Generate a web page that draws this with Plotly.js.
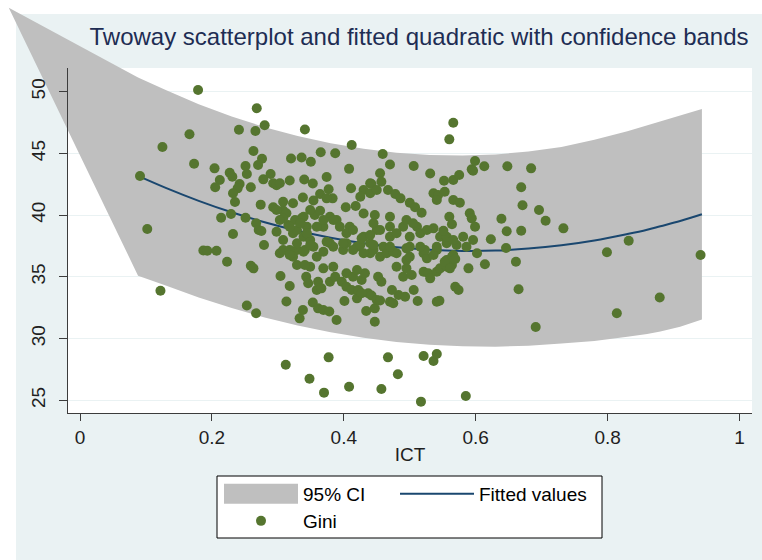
<!DOCTYPE html>
<html>
<head>
<meta charset="utf-8">
<script src="https://cdn.plot.ly/plotly-3.0.1.min.js"></script>
<style>
html, body { margin: 0; padding: 0; background: #ffffff; }
#chart { width: 762px; height: 560px; }
</style>
</head>
<body>
<div id="chart"></div>
<script>
// ---------------- data ----------------
const giniICT = [
  0.091, 0.102, 0.122, 0.125, 0.166, 0.179, 0.173, 0.204, 0.268, 0.280,
  0.241, 0.266, 0.341, 0.412, 0.263, 0.276, 0.270, 0.251, 0.253, 0.227,
  0.231, 0.212, 0.205, 0.242, 0.239, 0.232, 0.235, 0.259, 0.278, 0.289,
  0.293, 0.298, 0.320, 0.336, 0.350, 0.365, 0.387, 0.318, 0.340, 0.353,
  0.374, 0.377, 0.408, 0.411, 0.459, 0.470, 0.506, 0.531, 0.560, 0.566,
  0.455, 0.440, 0.430, 0.274, 0.293, 0.308, 0.323, 0.338, 0.354, 0.364,
  0.383, 0.403, 0.418, 0.430, 0.214, 0.229, 0.251, 0.267, 0.271, 0.232,
  0.279, 0.187, 0.193, 0.207, 0.223, 0.470, 0.490, 0.511, 0.536, 0.546,
  0.500, 0.470, 0.450, 0.430, 0.409, 0.389, 0.369, 0.344, 0.323, 0.308,
  0.303, 0.329, 0.354, 0.379, 0.399, 0.420, 0.440, 0.460, 0.480, 0.500,
  0.521, 0.541, 0.556, 0.275, 0.259, 0.263, 0.253, 0.267, 0.304, 0.318,
  0.313, 0.329, 0.333, 0.338, 0.353, 0.343, 0.346, 0.359, 0.361, 0.298,
  0.313, 0.298, 0.308, 0.318, 0.323, 0.316, 0.329, 0.339, 0.349, 0.341,
  0.359, 0.349, 0.336, 0.356, 0.349, 0.308, 0.312, 0.348, 0.369, 0.378,
  0.389, 0.401, 0.420, 0.434, 0.447, 0.447, 0.437, 0.442, 0.450, 0.455,
  0.470, 0.475, 0.483, 0.493, 0.473, 0.506, 0.512, 0.541, 0.545, 0.569,
  0.574, 0.589, 0.602, 0.361, 0.366, 0.379, 0.387, 0.397, 0.404, 0.412,
  0.422, 0.427, 0.432, 0.452, 0.457, 0.490, 0.495, 0.503, 0.521, 0.528,
  0.531, 0.541, 0.546, 0.556, 0.564, 0.341, 0.369, 0.384, 0.404, 0.414,
  0.420, 0.480, 0.495, 0.500, 0.526, 0.536, 0.556, 0.566, 0.318, 0.339,
  0.369, 0.384, 0.414, 0.430, 0.445, 0.455, 0.465, 0.475, 0.404, 0.425,
  0.440, 0.523, 0.541, 0.571, 0.457, 0.442, 0.425, 0.467, 0.478, 0.486,
  0.500, 0.508, 0.518, 0.536, 0.543, 0.541, 0.552, 0.566, 0.575, 0.594,
  0.599, 0.566, 0.576, 0.591, 0.594, 0.599, 0.560, 0.564, 0.303, 0.308,
  0.374, 0.326, 0.339, 0.364, 0.379, 0.447, 0.445, 0.455, 0.470, 0.480,
  0.495, 0.505, 0.516, 0.526, 0.556, 0.566, 0.581, 0.596, 0.586, 0.303,
  0.318, 0.334, 0.344, 0.359, 0.369, 0.384, 0.394, 0.404, 0.414, 0.427,
  0.440, 0.329, 0.349, 0.374, 0.399, 0.445, 0.470, 0.495, 0.516, 0.596,
  0.613, 0.648, 0.684, 0.669, 0.671, 0.696, 0.706, 0.639, 0.551, 0.647,
  0.669, 0.733, 0.623, 0.646, 0.661, 0.614, 0.564, 0.569, 0.553, 0.561,
  0.799, 0.832, 0.941, 0.665, 0.814, 0.691, 0.879, 0.427, 0.440, 0.450,
  0.553, 0.377, 0.370, 0.408, 0.457, 0.467, 0.482, 0.517, 0.521, 0.536,
  0.541, 0.585
];
const giniValue = [
  43.17, 38.88, 33.88, 45.52, 46.55, 50.14, 44.17, 43.79, 48.66, 47.28,
  46.92, 46.82, 46.94, 45.68, 45.20, 44.57, 44.06, 43.98, 43.33, 43.44,
  43.11, 42.85, 42.26, 42.52, 42.17, 41.77, 41.06, 42.26, 42.90, 43.33,
  42.58, 42.42, 44.59, 44.67, 44.33, 45.09, 45.01, 42.81, 42.89, 42.56,
  43.09, 42.10, 43.75, 42.18, 44.95, 44.10, 43.98, 43.37, 46.14, 47.49,
  43.39, 42.58, 42.04, 40.85, 40.64, 40.38, 40.96, 41.43, 41.19, 41.71,
  41.36, 40.64, 40.74, 40.13, 39.79, 40.09, 39.79, 39.34, 38.80, 38.47,
  37.58, 37.14, 37.12, 37.12, 36.23, 39.87, 39.06, 39.06, 38.93, 38.25,
  38.25, 38.25, 38.80, 38.25, 39.06, 39.61, 39.06, 39.06, 38.53, 37.99,
  36.91, 37.18, 37.44, 37.72, 37.18, 37.44, 36.91, 37.44, 36.91, 37.44,
  36.91, 37.18, 37.72, 38.72, 35.90, 35.69, 32.68, 32.05, 35.07, 34.26,
  33.00, 35.96, 31.64, 32.32, 32.92, 35.01, 34.48, 33.94, 32.45, 40.42,
  40.15, 38.66, 37.18, 37.18, 36.63, 39.20, 38.80, 38.25, 37.99, 37.18,
  36.63, 35.82, 39.74, 40.01, 40.42, 39.74, 27.88, 26.75, 32.32, 32.20,
  31.51, 33.04, 33.26, 32.23, 31.37, 32.45, 33.67, 33.49, 33.13, 33.08,
  32.99, 32.86, 33.53, 33.39, 33.94, 33.94, 33.04, 32.99, 33.07, 34.20,
  33.94, 35.69, 36.91, 34.61, 34.07, 34.61, 35.01, 34.61, 34.20, 33.94,
  33.94, 34.75, 35.29, 35.01, 34.61, 35.01, 35.69, 35.15, 35.42, 35.29,
  34.88, 35.42, 35.69, 35.82, 35.96, 35.96, 35.69, 35.82, 35.29, 35.01,
  35.56, 35.82, 36.37, 36.63, 36.50, 36.77, 36.37, 36.77, 36.77, 37.04,
  37.04, 37.44, 37.18, 36.91, 37.18, 36.63, 36.91, 37.04, 37.72, 37.58,
  37.72, 37.18, 37.44, 37.58, 42.71, 42.52, 41.49, 42.04, 41.71, 41.36,
  41.01, 40.64, 40.20, 41.77, 41.63, 41.23, 42.79, 42.85, 43.25, 43.71,
  44.39, 41.23, 41.01, 40.15, 39.74, 39.06, 39.87, 39.26, 42.58, 41.09,
  41.36, 39.61, 39.87, 40.36, 39.87, 40.01, 39.34, 38.80, 39.06, 38.53,
  39.61, 39.34, 38.53, 38.80, 38.25, 37.99, 38.25, 37.99, 37.44, 39.61,
  39.06, 39.34, 38.53, 39.06, 39.61, 39.61, 39.06, 38.53, 38.80, 38.12,
  38.39, 37.72, 37.58, 37.85, 37.72, 37.58, 37.44, 37.31, 37.44, 43.60,
  43.96, 43.96, 43.79, 42.26, 40.80, 40.42, 39.55, 39.71, 38.74, 38.69,
  38.74, 38.93, 38.04, 37.34, 36.23, 36.02, 36.63, 36.45, 36.23, 35.69,
  36.99, 37.93, 36.77, 33.99, 32.05, 30.94, 33.33, 33.67, 41.77, 42.04,
  41.90, 28.48, 25.62, 26.10, 25.92, 28.48, 27.11, 24.89, 28.59, 28.18,
  28.75, 25.35
];

// fitted quadratic and its 95% band
const fitICT   = [0.088, 0.13, 0.18, 0.23, 0.28, 0.33, 0.38, 0.43, 0.48, 0.53, 0.58, 0.63, 0.68, 0.73, 0.78, 0.83, 0.86, 0.88, 0.91, 0.943];
const fitValue = [43.18, 42.21, 41.16, 40.23, 39.42, 38.73, 38.17, 37.72, 37.39, 37.19, 37.10, 37.13, 37.29, 37.56, 37.95, 38.47, 38.82, 39.10, 39.52, 40.07];
const ciUpper  = [51.15, 50.13, 48.99, 47.99, 47.13, 46.41, 45.82, 45.37, 45.05, 44.87, 44.83, 44.92, 45.15, 45.52, 46.10, 46.80, 47.27, 47.62, 48.08, 48.60];
const ciLower  = [35.10, 34.29, 33.33, 32.47, 31.71, 31.06, 30.52, 30.07, 29.73, 29.50, 29.37, 29.34, 29.42, 29.60, 29.80, 30.14, 30.37, 30.58, 30.96, 31.54];
// stray first vertex of the band polygon (drawn outside the plot region in the reference)
const ciTipICT = -0.108;
const ciTipValue = 56.8;

const xTickVals = [0, 0.2, 0.4, 0.6, 0.8, 1];
const xTickText = ['0', '0.2', '0.4', '0.6', '0.8', '1'];
const yTickVals = [25, 30, 35, 40, 45, 50];
const yTickText = ['25', '30', '35', '40', '45', '50'];

const titleText = 'Twoway scatterplot and fitted quadratic with confidence bands';
const xTitle = 'ICT';
const seriesNames = ['95% CI', 'Fitted values', 'Gini'];

// ---------------- geometry (pixels of the 762x560 figure) ----------------
const W = 762, H = 560;
const plotL = 68, plotR = 752, plotT = 68, plotB = 413;
const xZeroPx = 80, xPxPerUnit = 659.5;        // x = 0 at 80 px, x = 1 at 739.5 px
const y25Px = 400.3, yPxPerUnit = 12.344;      // y = 25 at 400.3 px, 5 units = 61.7 px
const pxToX = px => (px - xZeroPx) / xPxPerUnit;
const pyToY = py => 25 + (y25Px - py) / yPxPerUnit;

const COL_BG = '#EAF2F3';
const COL_BAND = '#BFBFBF';
const COL_LINE = '#1A476F';
const COL_PT = '#55752F';
const COL_AX = '#3c3c3c';
const FONT = 'Liberation Sans, Arial, Helvetica, sans-serif';

const mainXDomain = [plotL / W, plotR / W];
const mainYDomain = [(H - plotB) / H, (H - plotT) / H];
const mainXRange = [pxToX(plotL), pxToX(plotR)];
const mainYRange = [pyToY(plotB), pyToY(plotT)];
const fullXRange = [pxToX(0), pxToX(W)];
const fullYRange = [pyToY(H), pyToY(0)];

// band polygon: stray tip, upper bound left->right, lower bound right->left
const bandX = [ciTipICT].concat(fitICT, fitICT.slice().reverse());
const bandY = [ciTipValue].concat(ciUpper, ciLower.slice().reverse());

const traces = [
  // grid host (drawn first, below everything)
  { type: 'scatter', x: [], y: [], xaxis: 'x', yaxis: 'y', showlegend: false, hoverinfo: 'skip' },
  { type: 'scatter', mode: 'lines', x: bandX, y: bandY, fill: 'toself', fillcolor: COL_BAND,
    line: { width: 0, color: COL_BAND }, name: seriesNames[0], xaxis: 'x2', yaxis: 'y2',
    legend: 'legend', legendwidth: 87, hoverinfo: 'skip' },
  { type: 'scatter', mode: 'lines', x: fitICT, y: fitValue, line: { color: COL_LINE, width: 2, shape: 'spline' },
    name: seriesNames[1], xaxis: 'x2', yaxis: 'y2', legend: 'legend', hoverinfo: 'skip' },
  { type: 'scatter', mode: 'markers', x: giniICT, y: giniValue,
    marker: { color: COL_PT, size: 10, line: { width: 0 } },
    name: seriesNames[2], xaxis: 'x2', yaxis: 'y2', legend: 'legend2', hoverinfo: 'skip' },
  // axis host (drawn last, on top of the band)
  { type: 'scatter', x: [], y: [], xaxis: 'x3', yaxis: 'y3', showlegend: false, hoverinfo: 'skip' }
];

const tickFont = { family: FONT, size: 19, color: '#1f1f1f' };

const layout = {
  width: W, height: H,
  margin: { l: 0, r: 0, t: 0, b: 0, pad: 0 },
  paper_bgcolor: '#ffffff',
  plot_bgcolor: 'rgba(0,0,0,0)',
  showlegend: true,
  hovermode: false,
  font: { family: FONT, size: 19, color: '#000000' },
  title: {
    text: titleText,
    font: { family: FONT, size: 24, color: '#1E2D53' },
    xref: 'container', yref: 'container',
    x: 419 / W, xanchor: 'center',
    y: (H - 37) / H, yanchor: 'middle'
  },
  // grid-only axes
  xaxis: { domain: mainXDomain, range: mainXRange, autorange: false, anchor: 'y',
           showgrid: false, zeroline: false, showline: false, showticklabels: false, ticks: '', automargin: false },
  yaxis: { domain: mainYDomain, range: mainYRange, autorange: false, anchor: 'x',
           tickmode: 'array', tickvals: yTickVals, showgrid: true, gridcolor: COL_BG, gridwidth: 1.2,
           zeroline: false, showline: false, showticklabels: false, ticks: '', automargin: false },
  // full-figure axes carrying the data (lets the band overflow the plot region)
  xaxis2: { domain: [0, 1], range: fullXRange, autorange: false, anchor: 'y2', visible: false, automargin: false },
  yaxis2: { domain: [0, 1], range: fullYRange, autorange: false, anchor: 'x2', visible: false, automargin: false },
  // visible axes with ticks, labels and lines
  xaxis3: { domain: mainXDomain, range: mainXRange, autorange: false, anchor: 'y3',
            tickmode: 'array', tickvals: xTickVals, ticktext: xTickText,
            showgrid: false, zeroline: false, showline: true, linecolor: COL_AX, linewidth: 1,
            ticks: 'outside', ticklen: 7, tickwidth: 1, tickcolor: COL_AX,
            tickfont: tickFont, ticklabelstandoff: 0, automargin: false,
            title: { text: xTitle, font: { family: FONT, size: 19, color: '#1f1f1f' }, standoff: 0 } },
  yaxis3: { domain: mainYDomain, range: mainYRange, autorange: false, anchor: 'x3',
            tickmode: 'array', tickvals: yTickVals, ticktext: yTickText, tickangle: -90,
            showgrid: false, zeroline: false, showline: true, linecolor: COL_AX, linewidth: 1,
            ticks: 'outside', ticklen: 8, tickwidth: 1, tickcolor: COL_AX,
            tickfont: tickFont, ticklabelstandoff: 6, automargin: false },
  legend: {
    orientation: 'h', xref: 'paper', yref: 'paper',
    x: 219 / W, xanchor: 'left', y: (H - 494) / H, yanchor: 'middle',
    bgcolor: 'rgba(0,0,0,0)', borderwidth: 0, itemwidth: 74, traceorder: 'normal',
    font: { family: FONT, size: 19, color: '#000000' }
  },
  legend2: {
    orientation: 'v', xref: 'paper', yref: 'paper',
    x: 219 / W, xanchor: 'left', y: (H - 521) / H, yanchor: 'middle',
    bgcolor: 'rgba(0,0,0,0)', borderwidth: 0, itemwidth: 74,
    font: { family: FONT, size: 19, color: '#000000' }
  },
  shapes: [
    // graph region (light bluish gray)
    { type: 'rect', xref: 'paper', yref: 'paper', layer: 'below',
      x0: 16 / W, x1: 1, y0: 0, y1: (H - 14) / H, fillcolor: COL_BG, line: { width: 0 } },
    // plot region (white)
    { type: 'rect', xref: 'paper', yref: 'paper', layer: 'below',
      x0: plotL / W, x1: plotR / W, y0: (H - plotB) / H, y1: (H - plotT) / H, fillcolor: '#ffffff', line: { width: 0 } },
    // legend frame
    { type: 'rect', xref: 'paper', yref: 'paper', layer: 'below',
      x0: 217 / W, x1: 602 / W, y0: (H - 538) / H, y1: (H - 476) / H,
      fillcolor: '#ffffff', line: { color: '#000000', width: 1 } }
  ]
};

Plotly.newPlot('chart', traces, layout, { displayModeBar: false, staticPlot: true, responsive: false })
  .then(function () {
    // make the "95% CI" legend swatch a full-height block like the reference
    document.querySelectorAll('.legendfill path').forEach(function (p) {
      p.setAttribute('d', 'M5,-10h74v20h-74z');
    });
  });
</script>
</body>
</html>
